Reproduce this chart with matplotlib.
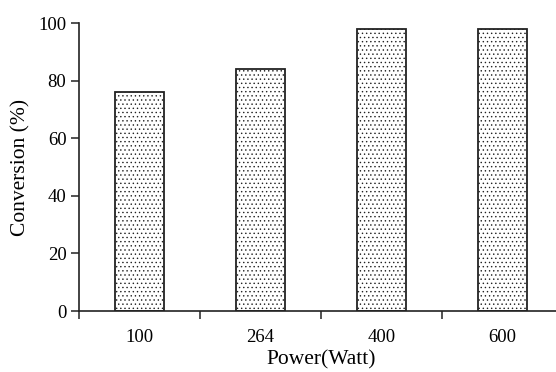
import matplotlib
matplotlib.use("Agg")
import matplotlib.pyplot as plt
import numpy as np

categories = ["100", "264", "400", "600"]
conversion = [76, 84, 98, 98]
yticks = [0, 20, 40, 60, 80, 100]

plt.rcParams['font.family'] = ['Liberation Serif', 'DejaVu Serif']
plt.rcParams['hatch.color'] = '#9a9a9a'
plt.rcParams['hatch.linewidth'] = 0.5

fig = plt.figure(figsize=(5.56, 3.72), dpi=100)
ax = fig.add_axes([79/556, 61/372, 484/556, 288/372])

x = np.arange(len(categories))
ax.bar(x, conversion, width=0.4, facecolor='white', edgecolor='#222222',
       linewidth=1.3, hatch='....')

ax.set_xlim(-0.5, len(categories) - 0.5)
ax.set_ylim(0, 100)
ax.set_yticks(yticks)
ax.set_xticks(x)
ax.set_xticklabels(categories)
ax.set_xticks(np.arange(-0.5, len(categories), 1.0), minor=True)
ax.tick_params(axis='x', which='major', length=0, pad=13, labelsize=13.5)
ax.tick_params(axis='x', which='minor', length=6, width=1.1, direction='out', color='#222222')
ax.tick_params(axis='y', length=6, width=1.1, direction='out', pad=3, labelsize=13.5, color='#222222')

for s in ['top', 'right']:
    ax.spines[s].set_visible(False)
for s in ['left', 'bottom']:
    ax.spines[s].set_linewidth(1.2)
    ax.spines[s].set_color('#222222')

ax.set_xlabel('Power(Watt)', fontsize=15.5, labelpad=3)
ax.set_ylabel('Conversion (%)', fontsize=15.5, labelpad=6)

fig.savefig('out.png', dpi=100)
